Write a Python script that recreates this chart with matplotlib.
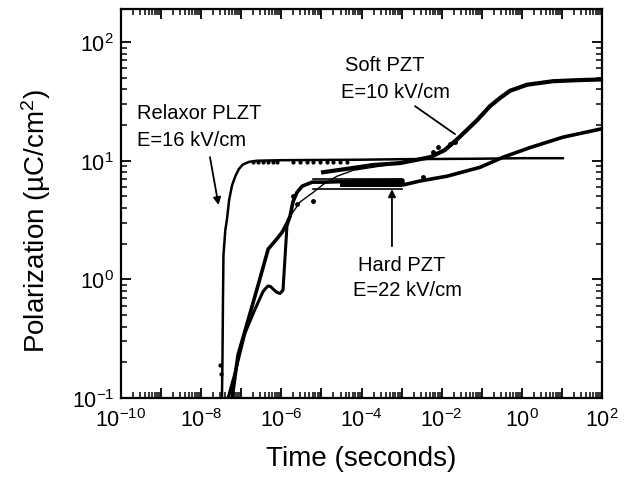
"""
plot.py  —  极化强度随时间变化 (Relaxor PLZT / Soft PZT / Hard PZT)
log-log 图，matplotlib 重绘
"""

import matplotlib

matplotlib.use("Agg")
import matplotlib.pyplot as plt
from matplotlib.ticker import NullFormatter

# ── 数据 ────────────────────────────────────────────
# Relaxor PLZT, E=16 kV/cm
relaxor_t = [3.3e-8, 3.4e-8, 3.5e-8, 3.6e-8, 4.0e-8, 4.4e-8, 5.0e-8, 5.9e-8,
             7.1e-8, 8.7e-8, 1.1e-7, 1.6e-7, 2.5e-7, 1e-6, 1e-5, 1e-4, 1e-3,
             1e-2, 0.1, 1.0, 10.7]
relaxor_p = [0.10, 0.21, 0.68, 1.6, 2.6, 3.2, 4.7, 6.2,
             7.4, 8.5, 9.3, 9.8, 10.0, 10.1, 10.15, 10.2, 10.3,
             10.35, 10.4, 10.5, 10.5]
relaxor_dot_t = [2.9e-8, 3.2e-8, 1.95e-7, 2.6e-7, 3.5e-7, 4.7e-7, 6.2e-7,
                 7.8e-7, 1.95e-6, 2.95e-6, 4.4e-6, 6.2e-6, 9.3e-6, 1.4e-5,
                 1.95e-5, 2.9e-5, 4.4e-5]
relaxor_dot_p = [0.19, 0.16, 9.7, 9.7, 9.7, 9.7, 9.7,
                 9.7, 9.7, 9.7, 9.7, 9.7, 9.7, 9.7,
                 9.7, 9.7, 9.7]

# Hard PZT, E=22 kV/cm
hard_t = [5.9e-8, 8.3e-8, 1.5e-7, 2.6e-7, 4.7e-7, 7.8e-7, 1.05e-6, 1.4e-6,
          1.65e-6, 1.95e-6, 2.45e-6, 3.3e-6, 5.9e-6, 1.2e-5, 1e-4, 1.0e-3,
          1.07e-3, 1.1e-3, 2.9e-3, 1.35e-2, 9.1e-2, 0.34, 1.6, 10.7, 100]
hard_p = [0.10, 0.23, 0.46, 0.88, 1.8, 2.2, 2.5, 3.0,
          3.4, 4.5, 5.4, 6.1, 6.6, 6.6, 6.75, 6.85,
          6.85, 6.25, 6.75, 7.4, 8.8, 10.7, 12.9, 15.8, 18.6]
hard_band_t = [6.2e-6, 1.03e-3]
hard_band_p = [5.8, 7.0]
hard_fill_t = [2.9e-5, 1.03e-3]
hard_fill_p = [6.0, 6.9]
hard_dot_t = [1.95e-6, 2.4e-6, 6.2e-6, 3.4e-3]
hard_dot_p = [5.0, 4.3, 4.6, 7.3]

# Soft PZT, E=10 kV/cm
soft_low_t = [4.7e-8, 6.9e-8, 1.23e-7, 2.2e-7, 3.5e-7, 4.2e-7, 4.7e-7,
              5.4e-7, 6.2e-7, 7.6e-7, 9.3e-7, 1.1e-6, 1.38e-6, 1.65e-6]
soft_low_p = [0.10, 0.16, 0.35, 0.56, 0.79, 0.85, 0.88,
              0.87, 0.83, 0.78, 0.76, 0.81, 2.8, 3.4]
soft_fit_t = [1.65e-6, 2.95e-6, 6.2e-6, 1.1e-5, 2.45e-5, 6.2e-5, 2.9e-4,
              1.6e-3, 5.1e-3]
soft_fit_p = [3.4, 4.5, 5.4, 6.3, 7.4, 8.3, 9.0, 9.8, 10.7]
soft_t = [1.1e-5, 5e-5, 1.95e-4, 9.1e-4, 5.1e-3, 1.2e-2, 2.4e-2, 4.3e-2,
          7.6e-2, 0.16, 0.29, 0.51, 1.35, 6.0, 31.6, 100]
soft_p = [8.0, 8.6, 9.2, 9.55, 10.7, 12.3, 15.1, 18.2,
          21.9, 28.8, 33.9, 38.9, 43.7, 46.8, 47.9, 48.4]
soft_dot_t = [6.0e-3, 8.1e-3, 1.6e-2, 2.1e-2]
soft_dot_p = [11.8, 13.0, 13.8, 14.4]

# 刻度
x_exp = list(range(-10, 3))
y_exp = list(range(-1, 3))
x_labels = [rf"$\mathregular{{10^{{{k}}}}}$" if k % 2 == 0 else "" for k in x_exp]
y_labels = [rf"$\mathregular{{10^{{{k}}}}}$" for k in y_exp]


def _minor(exps):
    return [m * 10.0 ** k for k in exps for m in range(2, 10)]


plt.rcParams["font.family"] = ["Liberation Sans", "DejaVu Sans"]
plt.rcParams["mathtext.fontset"] = "custom"
plt.rcParams["mathtext.rm"] = "Liberation Sans"
plt.rcParams["mathtext.it"] = "Liberation Sans:italic"
plt.rcParams["mathtext.bf"] = "Liberation Sans:bold"

fig = plt.figure(figsize=(6.3, 4.81), dpi=100)
ax = fig.add_axes([121 / 630, 1 - 399 / 481, 481 / 630, 389 / 481])
ax.set_xscale("log")
ax.set_yscale("log")
ax.set_xlim(1e-10, 1e2)
ax.set_ylim(1e-1, 190)

# -- 坐标轴刻度 --
ax.set_xticks([10.0 ** k for k in x_exp], x_labels)
ax.set_yticks([10.0 ** k for k in y_exp], y_labels)
ax.set_xticks(_minor(x_exp[:-1]), minor=True)
ax.set_yticks(_minor(y_exp[:-1]), minor=True)
ax.xaxis.set_minor_formatter(NullFormatter())
ax.yaxis.set_minor_formatter(NullFormatter())
ax.tick_params(which="major", direction="in", top=True, right=True,
               length=7, width=1.3, labelsize=15.5)
ax.tick_params(which="minor", direction="in", top=True, right=True,
               length=4.5, width=1.1)
ax.tick_params(axis="x", which="major", pad=7)
ax.tick_params(axis="y", which="major", pad=5)
for s in ax.spines.values():
    s.set_linewidth(1.6)

# -- 曲线 --
ax.plot(relaxor_t, relaxor_p, color="k", lw=1.8, solid_capstyle="round")
ax.plot(relaxor_dot_t, relaxor_dot_p, "o", color="k", ms=2.0)

ax.plot(hard_t, hard_p, color="k", lw=2.6, solid_joinstyle="round")
ax.plot(hard_band_t, [hard_band_p[0]] * 2, color="k", lw=1.2)
ax.plot(hard_band_t, [hard_band_p[1]] * 2, color="k", lw=1.2)
ax.fill_between(hard_fill_t, hard_fill_p[0], hard_fill_p[1], color="k", lw=0)
ax.plot(hard_dot_t, hard_dot_p, "o", color="k", ms=2.5)

ax.plot(soft_low_t, soft_low_p, color="k", lw=2.2, solid_joinstyle="round")
ax.plot(soft_fit_t, soft_fit_p, color="k", lw=1.0)
ax.plot(soft_t, soft_p, color="k", lw=3.0, solid_joinstyle="round")
ax.plot(soft_dot_t, soft_dot_p, "o", color="k", ms=2.5)

# -- 标注 --
txt = dict(fontsize=14.5, va="center", ha="left")
ax.text(10 ** -9.60, 10 ** 1.41, "Relaxor PLZT", **txt)
ax.text(10 ** -9.60, 10 ** 1.18, "E=16 kV/cm", **txt)
ax.text(10 ** -4.41, 10 ** 1.81, "Soft PZT", **txt)
ax.text(10 ** -4.51, 10 ** 1.586, "E=10 kV/cm", **txt)
ax.text(10 ** -4.09, 10 ** 0.129, "Hard PZT", **txt)
ax.text(10 ** -4.21, 10 ** -0.082, "E=22 kV/cm", **txt)

arrow = dict(arrowstyle="-|>", color="k", lw=1.3, mutation_scale=11,
             shrinkA=0, shrinkB=0)
ax.annotate("", xy=(10 ** -7.567, 10 ** 0.626), xytext=(10 ** -7.78, 10 ** 1.03),
            arrowprops=arrow)
ax.annotate("", xy=(10 ** -3.24, 10 ** 0.76), xytext=(10 ** -3.24, 10 ** 0.28),
            arrowprops=arrow)
ax.annotate("", xy=(10 ** -1.667, 10 ** 1.224), xytext=(10 ** -2.665, 10 ** 1.46),
            arrowprops=dict(arrowstyle="-", color="k", lw=1.3,
                            shrinkA=0, shrinkB=0))

ax.set_xlabel("Time (seconds)", fontsize=20)
ax.set_ylabel("Polarization (µC/cm$^{2}$)", fontsize=20)
ax.xaxis.set_label_coords(0.5, -0.12)
ax.yaxis.set_label_coords(-0.141, 0.458)

fig.savefig("out.png", dpi=100)
plt.close(fig)
